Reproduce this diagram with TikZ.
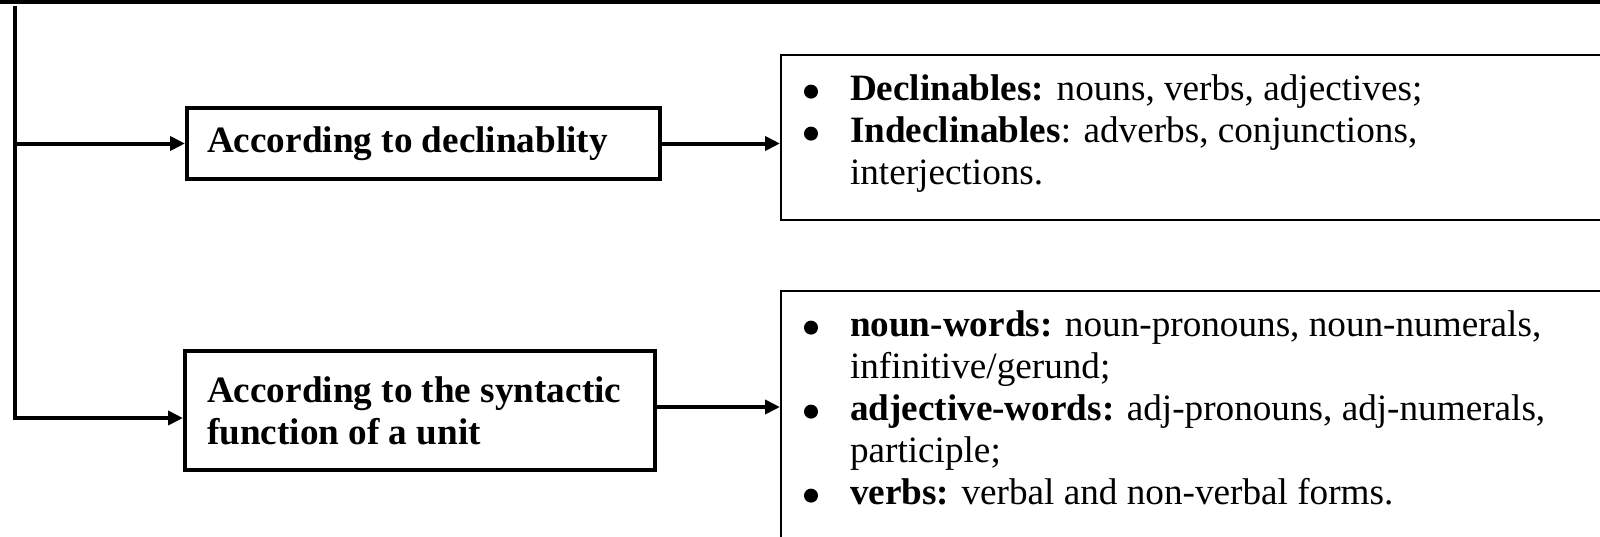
\documentclass[tikz,border=0pt]{standalone}
\usepackage{fontspec}
\setmainfont{Liberation Serif}
\usetikzlibrary{arrows.meta}
\newcommand\rsbul{\makebox[23pt][l]{\tikz[baseline=0pt,x=1pt,y=1pt]\fill (3.5,4.6) circle[radius=3.5];}}
\newcommand\rsind{\hspace*{23pt}}
\begin{document}
\begin{tikzpicture}[x=0.5pt,y=-0.5pt,
  txt/.style={font=\fontsize{18.6pt}{21pt}\selectfont, align=flush left},
  lbox/.style={draw, line width=2pt, font=\fontsize{18.6pt}{21pt}\selectfont\bfseries, align=flush left, inner ysep=0pt},
  rbox/.style={txt, draw, line width=1pt, inner xsep=11.5pt, inner ysep=10pt, text width=430pt, anchor=north west},
  conn/.style={line width=2pt},
  arr/.style={conn, -{Triangle[length=7.5pt,width=7pt]}}]
\useasboundingbox (0,0) rectangle (1600,536);
\fill[white] (0,0) rectangle (1600,536);
\clip (0,0) rectangle (1600,536);
% top rule
\fill[black] (0,0) rectangle (1600,3.5);
% left boxes
\node[lbox, text width=216.5pt, inner xsep=10pt, minimum height=35.5pt] (b1) at (423.5,143.5) {According to declinablity};
\node[lbox, text width=213pt, inner xsep=11pt, minimum height=59.5pt] (b2) at (420,410.5) {According to the syntactic\\function of a unit};
% right boxes
\node[rbox] (r1) at (780,54) {\rsbul\textbf{Declinables:} nouns, verbs, adjectives;\\
\rsbul\textbf{Indeclinables}: adverbs, conjunctions,\\
\rsind interjections.\rule[-7.5pt]{0pt}{7.5pt}};
\node[rbox] (r2) at (780,290) {\rsbul\textbf{noun-words:} noun-pronouns, noun-numerals,\\
\rsind infinitive/gerund;\\
\rsbul\textbf{adjective-words:} adj-pronouns, adj-numerals,\\
\rsind participle;\\
\rsbul\textbf{verbs:} verbal and non-verbal forms.\rule[-20pt]{0pt}{20pt}};
% connectors
\coordinate (vtop) at (14.5,6);
\coordinate (vbot) at (14.5,418);
\coordinate (j1) at (14.5,143.5);
\draw[arr] (vtop) -- (vbot) -- (vbot -| b2.west);
\draw[arr] (j1) -- (b1.west);
\draw[arr] (b1.east) -- (b1.east -| r1.west);
\draw[arr] ([yshift=1.75pt]b2.east) -- ([yshift=1.75pt]b2.east -| r2.west);
\end{tikzpicture}
\end{document}
